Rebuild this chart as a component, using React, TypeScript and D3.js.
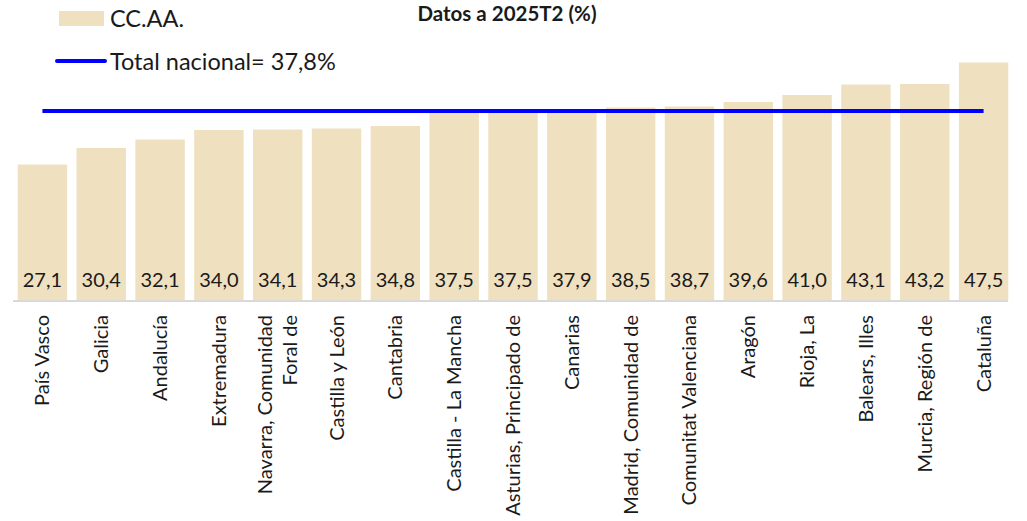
import React from "react";
import * as d3 from "d3";

const categories: string[][] = [
  ["País Vasco"],
  ["Galicia"],
  ["Andalucía"],
  ["Extremadura"],
  ["Navarra, Comunidad", "Foral de"],
  ["Castilla y León"],
  ["Cantabria"],
  ["Castilla - La Mancha"],
  ["Asturias, Principado de"],
  ["Canarias"],
  ["Madrid, Comunidad de"],
  ["Comunitat Valenciana"],
  ["Aragón"],
  ["Rioja, La"],
  ["Balears, Illes"],
  ["Murcia, Región de"],
  ["Cataluña"],
];
const values: number[] = [27.1, 30.4, 32.1, 34.0, 34.1, 34.3, 34.8, 37.5, 37.5, 37.9, 38.5, 38.7, 39.6, 41.0, 43.1, 43.2, 47.5];
const totalNacional = 37.8;
const title = "Datos a 2025T2 (%)";
const legendBars = "CC.AA.";
const legendLine = "Total nacional= 37,8%";

const W = 1027;
const H = 521;
const FONT = "Lato, 'Open Sans', sans-serif";
const BAR = "#EFE0C0";
const BLUE = "#0000FF";

export default function App() {
  const keys = categories.map((c) => c.join(" "));
  const x = d3.scaleBand<string>().domain(keys).range([13, 1013]).paddingInner(0.16).paddingOuter(0.08);
  const y = d3.scaleLinear().domain([0, 50]).range([300, 50]);
  const fmt = (v: number) => d3.format(".1f")(v).replace(".", ",");
  const bw = x.bandwidth();
  const firstC = (x(keys[0]) as number) + bw / 2;
  const lastC = (x(keys[keys.length - 1]) as number) + bw / 2;
  const lineGen = d3.line<[number, number]>().x((d) => d[0]).y((d) => d[1]);

  return (
    <svg
      width={W}
      height={H}
      style={{ position: "absolute", left: 0, top: 0, background: "#fff" }}
      fontFamily={FONT}
    >
      {keys.map((k, i) => (
        <rect key={k} x={x(k)} y={y(values[i])} width={bw} height={y(0) - y(values[i])} fill={BAR} />
      ))}
      <line x1={13} x2={1008} y1={y(0) + 1} y2={y(0) + 1} stroke="#D9D9D9" strokeWidth={2} />
      <path
        d={lineGen([
          [firstC, y(totalNacional)],
          [lastC, y(totalNacional)],
        ]) as string}
        stroke={BLUE}
        strokeWidth={4}
        fill="none"
      />
      {keys.map((k, i) => (
        <text key={"v" + k} x={(x(k) as number) + bw / 2} y={287} textAnchor="middle" fontSize={20} fill="#1a1a1a">
          {fmt(values[i])}
        </text>
      ))}
      {categories.map((lines, i) => {
        const cx = (x(keys[i]) as number) + bw / 2;
        const n = lines.length;
        return (
          <g key={"c" + i} transform={`translate(${cx},315) rotate(-90)`}>
            {lines.map((ln, j) => (
              <text
                key={j}
                x={0}
                y={(j - (n - 1) / 2) * 25}
                dy="0.35em"
                textAnchor="end"
                fontSize={20}
                fill="#1a1a1a"
              >
                {ln}
              </text>
            ))}
          </g>
        );
      })}
      <rect x={59} y={11} width={45} height={15} fill={BAR} />
      <text x={110} y={27} fontSize={23.5} fill="#1a1a1a">{legendBars}</text>
      <line x1={57} x2={105} y1={61} y2={61} stroke={BLUE} strokeWidth={4} strokeLinecap="round" />
      <text x={110} y={70} fontSize={23.5} fill="#1a1a1a">{legendLine}</text>
      <text x={507} y={21} textAnchor="middle" fontSize={20.5} fontWeight="bold" fill="#1a1a1a">{title}</text>
    </svg>
  );
}
